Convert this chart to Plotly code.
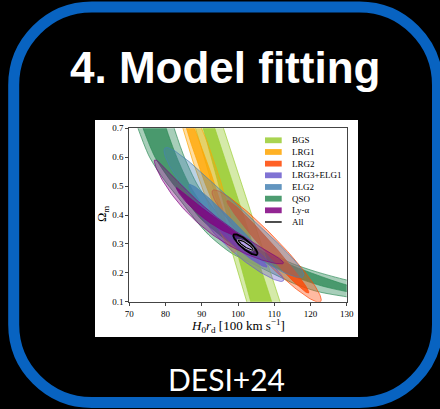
import numpy as np
import plotly.graph_objects as go

# ---------------- data ----------------
tracers = ["BGS", "LRG1", "LRG2", "LRG3+ELG1", "ELG2", "QSO", "Ly-α", "All"]
tracer_rgb = [(154, 205, 50), (255, 165, 0), (255, 69, 0), (106, 90, 205),
              (70, 130, 180), (46, 139, 87), (128, 0, 128), (0, 0, 0)]
x_ticks = [70, 80, 90, 100, 110, 120, 130]
y_ticks = [0.1, 0.2, 0.3, 0.4, 0.5, 0.6, 0.7]

# QSO band edges (H0rd, Omega_m)
qso_2sig_hi_x = [81.0, 82.4, 85.2, 89.0, 94.7, 99.5, 104.5, 109.5, 115.0, 121.5, 130.0, 137.0]
qso_2sig_hi_y = [0.76, 0.70, 0.60, 0.50, 0.40, 0.34, 0.30, 0.265, 0.232, 0.204, 0.175, 0.158]
qso_2sig_lo_x = [70.9, 72.4, 75.6, 79.7, 84.0, 87.8, 92.0, 98.3, 104.0, 110.0, 116.0, 122.0, 130.0, 137.0]
qso_2sig_lo_y = [0.76, 0.70, 0.60, 0.52, 0.452, 0.39, 0.33, 0.267, 0.232, 0.195, 0.16, 0.135, 0.117, 0.106]
qso_1sig_hi_x = [79.0, 80.2, 83.1, 86.8, 92.3, 97.3, 102.5, 108.0, 114.0, 121.0, 130.0, 137.0]
qso_1sig_hi_y = [0.76, 0.70, 0.60, 0.50, 0.40, 0.345, 0.305, 0.266, 0.23, 0.196, 0.158, 0.142]
qso_1sig_lo_x = [72.3, 73.8, 77.1, 81.3, 85.6, 89.5, 93.6, 99.6, 105.0, 111.0, 117.0, 123.0, 130.0, 137.0]
qso_1sig_lo_y = [0.76, 0.70, 0.60, 0.52, 0.452, 0.39, 0.345, 0.287, 0.252, 0.215, 0.18, 0.155, 0.135, 0.122]

# BGS band edges (straight), x at Omega_m = bgs_y_ends
bgs_y_ends = [0.75, 0.05]
bgs_2sig_left_x = [87.1, 103.6]
bgs_2sig_right_x = [94.7, 112.9]
bgs_1sig_left_x = [89.3, 104.6]
bgs_1sig_right_x = [92.3, 110.6]

# elongated contours: [tip1 x, tip1 y, tip2 x, tip2 y, width/length ratio, bend]
lrg1_2sig = [82.8, 0.87, 99.0, 0.27, 0.11, 0.0]
lrg1_1sig = [84.0, 0.80, 97.0, 0.34, 0.065, 0.0]
lrg2_2sig = [93.0, 0.485, 122.8, 0.10, 0.15, 0.0]
lrg2_1sig = [97.0, 0.45, 119.5, 0.13, 0.085, 0.0]
lrg3_2sig = [89.0, 0.43, 112.5, 0.172, 0.15, -0.05]
lrg3_1sig = [93.5, 0.375, 108.0, 0.22, 0.12, -0.03]
elg2_2sig = [79.8, 0.631, 118.0, 0.187, 0.15, -0.07]
elg2_1sig = [86.5, 0.505, 105.0, 0.28, 0.14, -0.04]
lya_2sig = [77.0, 0.59, 112.5, 0.233, 0.10, -0.17]
lya_1sig = [83.0, 0.495, 100.5, 0.325, 0.09, -0.10]
all_2sig = [98.8, 0.332, 105.3, 0.263, 0.28, 0.0]
all_1sig = [100.1, 0.313, 104.2, 0.279, 0.22, 0.0]

# ---------------- layout constants ----------------
W, H = 440, 409
PX_L, PX_R, PY_T, PY_B = 129.3, 346.7, 128.3, 301.7
XR = [70, 130]
YR = [0.1, 0.7]
SX = (PX_R - PX_L) / (XR[1] - XR[0])
SY = (PY_B - PY_T) / (YR[1] - YR[0])


def rgba(c, a):
    return "rgba(%d,%d,%d,%.3f)" % (c[0], c[1], c[2], a)


def contour_xy(p, n=181):
    x1, y1, x2, y2, ratio, bend = p
    u1, v1, u2, v2 = x1 * SX, y1 * SY, x2 * SX, y2 * SY
    cu, cv = (u1 + u2) / 2, (v1 + v2) / 2
    au, av = (u2 - u1) / 2, (v2 - v1) / 2
    L = np.hypot(au, av)
    eu, ev = au / L, av / L
    nu, nv = -ev, eu
    t = np.linspace(0, 2 * np.pi, n)
    s, w = np.cos(t), np.sin(t)
    off = L * ratio * w + bend * L * (1 - s ** 2)
    return (cu + au * s + nu * off) / SX, (cv + av * s + nv * off) / SY


fig = go.Figure()


def add_poly(x, y, col, alpha, spline=False, lw=0.8):
    fig.add_trace(go.Scatter(
        x=list(x), y=list(y), mode="lines", fill="toself",
        fillcolor=rgba(col, alpha),
        line=dict(color=rgba(col, 0.85), width=lw,
                  shape="spline" if spline else "linear", smoothing=0.8),
        hoverinfo="skip", showlegend=False))


A2, A1 = 0.37, 0.78
C = dict(zip(tracers, tracer_rgb))

# QSO
add_poly(qso_2sig_hi_x + qso_2sig_lo_x[::-1], qso_2sig_hi_y + qso_2sig_lo_y[::-1], C["QSO"], 0.42, True)
add_poly(qso_1sig_hi_x + qso_1sig_lo_x[::-1], qso_1sig_hi_y + qso_1sig_lo_y[::-1], C["QSO"], A1, True)
# BGS
add_poly(bgs_2sig_left_x + bgs_2sig_right_x[::-1], bgs_y_ends + bgs_y_ends[::-1], C["BGS"], 0.42)
add_poly(bgs_1sig_left_x + bgs_1sig_right_x[::-1], bgs_y_ends + bgs_y_ends[::-1], C["BGS"], 0.85)

for name, c2, c1 in [("LRG1", lrg1_2sig, lrg1_1sig), ("LRG2", lrg2_2sig, lrg2_1sig),
                     ("LRG3+ELG1", lrg3_2sig, lrg3_1sig), ("ELG2", elg2_2sig, elg2_1sig),
                     ("Ly-α", lya_2sig, lya_1sig)]:
    x, y = contour_xy(c2)
    add_poly(x, y, C[name], A2)
    x, y = contour_xy(c1)
    add_poly(x, y, C[name], A1)

# All
x, y = contour_xy(all_2sig)
fig.add_trace(go.Scatter(x=x, y=y, mode="lines", fill="toself", fillcolor="rgba(40,0,60,0.45)",
                         line=dict(color="black", width=1.8), hoverinfo="skip", showlegend=False))
x, y = contour_xy(all_1sig)
fig.add_trace(go.Scatter(x=x, y=y, mode="lines", line=dict(color="white", width=2.0),
                         hoverinfo="skip", showlegend=False))
fig.add_trace(go.Scatter(x=x, y=y, mode="lines", fill="toself", fillcolor="rgba(190,170,240,0.95)",
                         line=dict(color="black", width=1.2), hoverinfo="skip", showlegend=False))


def px(X):
    return X / W


def py(Y):
    return 1 - Y / H


shapes = []
# white panel
shapes.append(dict(type="rect", xref="paper", yref="paper", x0=px(95), x1=px(358),
                   y0=py(337), y1=py(120), fillcolor="white", line=dict(width=0), layer="below"))

# rounded blue frame
x0, x1, y0, y1, r = 13.7, 437.5, 7.0, 402.5, 78.0
k = 0.5523 * r


def P(X, Y):
    return "%.5f,%.5f" % (px(X), py(Y))


path = ("M " + P(x0 + r, y0) + " L " + P(x1 - r, y0) +
        " C " + P(x1 - r + k, y0) + " " + P(x1, y0 + r - k) + " " + P(x1, y0 + r) +
        " L " + P(x1, y1 - r) +
        " C " + P(x1, y1 - r + k) + " " + P(x1 - r + k, y1) + " " + P(x1 - r, y1) +
        " L " + P(x0 + r, y1) +
        " C " + P(x0 + r - k, y1) + " " + P(x0, y1 - r + k) + " " + P(x0, y1 - r) +
        " L " + P(x0, y0 + r) +
        " C " + P(x0, y0 + r - k) + " " + P(x0 + r - k, y0) + " " + P(x0 + r, y0) + " Z")
shapes.append(dict(type="path", xref="paper", yref="paper", path=path,
                   line=dict(color="#0863C1", width=11), fillcolor="rgba(0,0,0,0)", layer="above"))

annotations = []
# legend (manual, matplotlib-like)
leg_x0, leg_x1, leg_tx = 265.0, 281.7, 290.0
row0, dy = 140.3, 11.67
for i, name in enumerate(tracers):
    yc = row0 + i * dy
    if name == "All":
        shapes.append(dict(type="line", xref="paper", yref="paper", x0=px(leg_x0), x1=px(leg_x1),
                           y0=py(yc), y1=py(yc), line=dict(color="#222", width=1.6)))
    else:
        shapes.append(dict(type="rect", xref="paper", yref="paper", x0=px(leg_x0), x1=px(leg_x1),
                           y0=py(yc + 2.9), y1=py(yc - 2.9), fillcolor=rgba(C[name], 0.85),
                           line=dict(width=0)))
    annotations.append(dict(x=px(leg_tx), y=py(yc), xref="paper", yref="paper", text=name,
                            showarrow=False, xanchor="left", yanchor="middle",
                            font=dict(family="Liberation Serif", size=9, color="black")))

# axis titles
annotations.append(dict(x=px(238), y=py(325.5), xref="paper", yref="paper",
                        text="<i>H</i><sub>0</sub><i>r</i><sub>d</sub> [100 km s<sup>−1</sup>]",
                        showarrow=False, xanchor="center", yanchor="middle",
                        font=dict(family="Liberation Serif", size=13, color="black")))
annotations.append(dict(x=px(103), y=py(214), xref="paper", yref="paper",
                        text="Ω<sub>m</sub>", textangle=-90,
                        showarrow=False, xanchor="center", yanchor="middle",
                        font=dict(family="Liberation Serif", size=12.5, color="black")))
# slide title and footer
annotations.append(dict(x=px(225), y=py(67), xref="paper", yref="paper",
                        text="<b>4. Model fitting</b>", showarrow=False,
                        xanchor="center", yanchor="middle",
                        font=dict(family="Liberation Sans", size=44, color="white")))
annotations.append(dict(x=px(226.5), y=py(379), xref="paper", yref="paper",
                        text="DESI+24", showarrow=False, xanchor="center", yanchor="middle",
                        font=dict(family="Lato", size=30, color="white")))

axis_common = dict(showgrid=False, zeroline=False, showline=True, mirror=True,
                   linecolor="#444", linewidth=1, ticks="outside", ticklen=3,
                   tickcolor="#444", tickwidth=1,
                   tickfont=dict(family="Liberation Serif", size=9, color="black"))

fig.update_layout(
    width=W, height=H,
    margin=dict(l=0, r=0, t=0, b=0, autoexpand=False),
    paper_bgcolor="black", plot_bgcolor="white",
    showlegend=False,
    xaxis=dict(range=XR, tickvals=x_ticks, ticktext=[str(v) for v in x_ticks],
               domain=[px(PX_L), px(PX_R)], **axis_common),
    yaxis=dict(range=YR, tickvals=y_ticks, ticktext=["%.1f" % v for v in y_ticks],
               domain=[py(PY_B), py(PY_T)], **axis_common),
    shapes=shapes, annotations=annotations,
)

fig.write_html("out.html", config={"displayModeBar": False, "staticPlot": True},
               post_script="document.body.style.margin='0';document.body.style.overflow='hidden';")
